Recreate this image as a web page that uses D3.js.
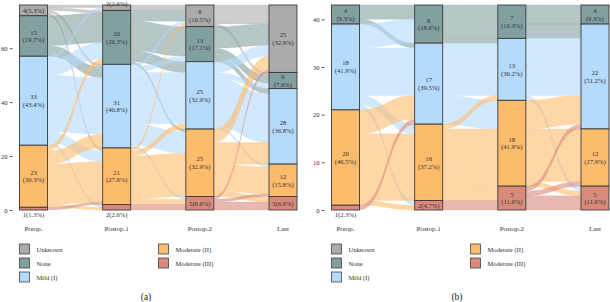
<!DOCTYPE html>
<html>
<head>
<meta charset="utf-8">
<script src="https://cdn.jsdelivr.net/npm/d3@7"></script>
<style>
  body { margin: 0; background: #fff; }
  svg { display: block; font-family: "Liberation Serif", "DejaVu Serif", serif; }
</style>
</head>
<body>
<svg id="chart" width="610" height="302"></svg>
<script>
var axes = ['Preop.', 'Postop.1', 'Postop.2', 'Last'];
var strata = ['Unknown', 'None', 'Mild (I)', 'Moderate (II)', 'Moderate (III)'];
var colors = ['#ababab', '#83a0a1', '#b4dafc', '#fdbc6c', '#d98a7b'];

// counts per axis, strata order top -> bottom
var countsA = [
  [4, 15, 33, 23, 1],
  [2, 20, 31, 21, 2],
  [8, 13, 25, 25, 5],
  [25, 6, 28, 12, 5]
];
var countsB = [
  [0, 4, 18, 20, 1],
  [0, 8, 17, 16, 2],
  [0, 7, 13, 18, 5],
  [0, 4, 22, 12, 5]
];

// transitions: rows = source stratum, cols = target stratum
var flowsA = [
  [[1, 1, 1, 1, 0], [0, 11, 4, 0, 0], [1, 6, 21, 4, 1], [0, 2, 5, 15, 1], [0, 0, 0, 1, 0]],
  [[2, 0, 0, 0, 0], [4, 11, 4, 1, 0], [1, 2, 19, 8, 1], [1, 0, 2, 16, 2], [0, 0, 0, 0, 2]],
  [[7, 1, 0, 0, 0], [8, 3, 2, 0, 0], [4, 2, 18, 1, 0], [5, 0, 8, 10, 2], [1, 0, 0, 1, 3]]
];
var flowsB = [
  [[0, 0, 0, 0, 0], [0, 3, 1, 0, 0], [0, 5, 10, 2, 1], [0, 0, 5, 14, 1], [0, 0, 1, 0, 0]],
  [[0, 0, 0, 0, 0], [0, 7, 1, 0, 0], [0, 0, 11, 6, 0], [0, 0, 1, 12, 3], [0, 0, 0, 0, 2]],
  [[0, 0, 0, 0, 0], [0, 4, 3, 0, 0], [0, 0, 12, 0, 1], [0, 0, 6, 11, 1], [0, 0, 1, 1, 3]]
];

var yTicksA = [0, 20, 40, 60];
var yTicksB = [0, 10, 20, 30, 40];

var svg = d3.select('#chart');
var barW = 28;

function drawPanel(opts) {
  var counts = opts.counts;
  var flows = opts.flows;
  var total = d3.sum(counts[0]);
  var g = svg.append('g');

  var x = d3.scalePoint().domain(axes).range([opts.x0, opts.x1]);
  var y = d3.scaleLinear().domain([0, total]).range([210, 5]);

  // stratum tops (in data units) per axis
  var tops = counts.map(function (c) {
    var t = [];
    for (var i = 0; i < c.length; i++) {
      t.push(d3.sum(c.slice(i)));
    }
    return t;
  });

  // flows
  var flowG = g.append('g');
  flows.forEach(function (m, k) {
    var xs = x(axes[k]) + barW / 2;
    var xt = x(axes[k + 1]) - barW / 2;
    var xm = (xs + xt) / 2;
    var srcUsed = [0, 0, 0, 0, 0];
    var tgtUsed = [0, 0, 0, 0, 0];
    var items = [];
    for (var i = 0; i < 5; i++) {
      for (var j = 0; j < 5; j++) {
        var n = m[i][j];
        if (!n) continue;
        var sTop = tops[k][i] - srcUsed[i];
        srcUsed[i] += n;
        items.push({ i: i, j: j, n: n, sTop: sTop });
      }
    }
    for (var j2 = 0; j2 < 5; j2++) {
      items.filter(function (d) { return d.j === j2; })
        .sort(function (a, b) { return a.i - b.i; })
        .forEach(function (d) {
          d.tTop = tops[k + 1][d.j] - tgtUsed[d.j];
          tgtUsed[d.j] += d.n;
        });
    }
    flowG.selectAll(null)
      .data(items)
      .enter()
      .append('path')
      .attr('d', function (d) {
        var s0 = y(d.sTop), s1 = y(d.sTop - d.n);
        var t0 = y(d.tTop), t1 = y(d.tTop - d.n);
        return 'M' + xs + ',' + s0 +
          'C' + xm + ',' + s0 + ' ' + xm + ',' + t0 + ' ' + xt + ',' + t0 +
          'L' + xt + ',' + t1 +
          'C' + xm + ',' + t1 + ' ' + xm + ',' + s1 + ' ' + xs + ',' + s1 + 'Z';
      })
      .attr('fill', function (d) { return colors[d.i]; })
      .attr('fill-opacity', 0.6)
      .attr('stroke', function (d) { return colors[d.i]; })
      .attr('stroke-opacity', 0.4)
      .attr('stroke-width', 0.4);
  });

  // bars and labels
  counts.forEach(function (c, k) {
    var cx = x(axes[k]);
    c.forEach(function (n, i) {
      if (!n) return;
      var yt = y(tops[k][i]);
      var yb = y(tops[k][i] - n);
      var h = yb - yt;
      g.append('rect')
        .attr('x', cx - barW / 2)
        .attr('y', yt)
        .attr('width', barW)
        .attr('height', h)
        .attr('fill', colors[i])
        .attr('stroke', '#3a3a3a')
        .attr('stroke-width', 0.9);
      var pct = (n / total * 100).toFixed(1) + '%';
      var lab = g.append('text')
        .attr('text-anchor', 'middle')
        .attr('font-size', 6.6)
        .attr('fill', '#333');
      if (h >= 15) {
        var mid = (yt + yb) / 2;
        lab.append('tspan').attr('x', cx).attr('y', mid - 1.5).text(n);
        lab.append('tspan').attr('x', cx).attr('y', mid + 6.2).text('(' + pct + ')');
      } else if (h >= 8) {
        lab.attr('x', cx).attr('y', (yt + yb) / 2 + 2.3).text(n + '(' + pct + ')');
      } else if (i === 4 || tops[k][i] - n === 0) {
        lab.attr('x', cx).attr('y', yb + 7).text(n + '(' + pct + ')');
      } else {
        lab.attr('x', cx).attr('y', Math.max(yt - 1.5, 5.6)).text(n + '(' + pct + ')');
      }
    });
    g.append('text')
      .attr('x', cx)
      .attr('y', 231)
      .attr('text-anchor', 'middle')
      .attr('font-size', 7)
      .attr('fill', '#333')
      .text(axes[k]);
  });

  // y axis
  var ax = g.append('g')
    .attr('transform', 'translate(' + (opts.x0 - barW / 2 - 7) + ',0)')
    .call(d3.axisLeft(y).tickValues(opts.ticks).tickSize(2.5).tickPadding(2.5));
  ax.select('.domain').remove();
  ax.selectAll('line').attr('stroke', '#444');
  ax.selectAll('text')
    .attr('font-family', '"Liberation Serif", serif')
    .attr('font-size', 6.6)
    .attr('fill', '#333');

  // legend
  var lx = opts.x0 - barW / 2;
  strata.forEach(function (s, i) {
    var col = i < 3 ? 0 : 1;
    var row = i < 3 ? i : i - 3;
    var bx = lx + col * 139;
    var by = 244 + row * 14;
    g.append('rect')
      .attr('x', bx)
      .attr('y', by)
      .attr('width', 10)
      .attr('height', 10)
      .attr('fill', colors[i])
      .attr('stroke', '#444')
      .attr('stroke-width', 0.8);
    g.append('text')
      .attr('x', bx + 17)
      .attr('y', by + 7.5)
      .attr('font-size', 6.6)
      .attr('fill', '#333')
      .text(s);
  });

  g.append('text')
    .attr('x', opts.capX)
    .attr('y', 300)
    .attr('text-anchor', 'middle')
    .attr('font-size', 9.5)
    .attr('fill', '#222')
    .text(opts.caption);
}

drawPanel({ counts: countsA, flows: flowsA, x0: 33.5, x1: 283, ticks: yTicksA, caption: '(a)', capX: 146 });
drawPanel({ counts: countsB, flows: flowsB, x0: 345.5, x1: 595, ticks: yTicksB, caption: '(b)', capX: 457 });
</script>
</body>
</html>
